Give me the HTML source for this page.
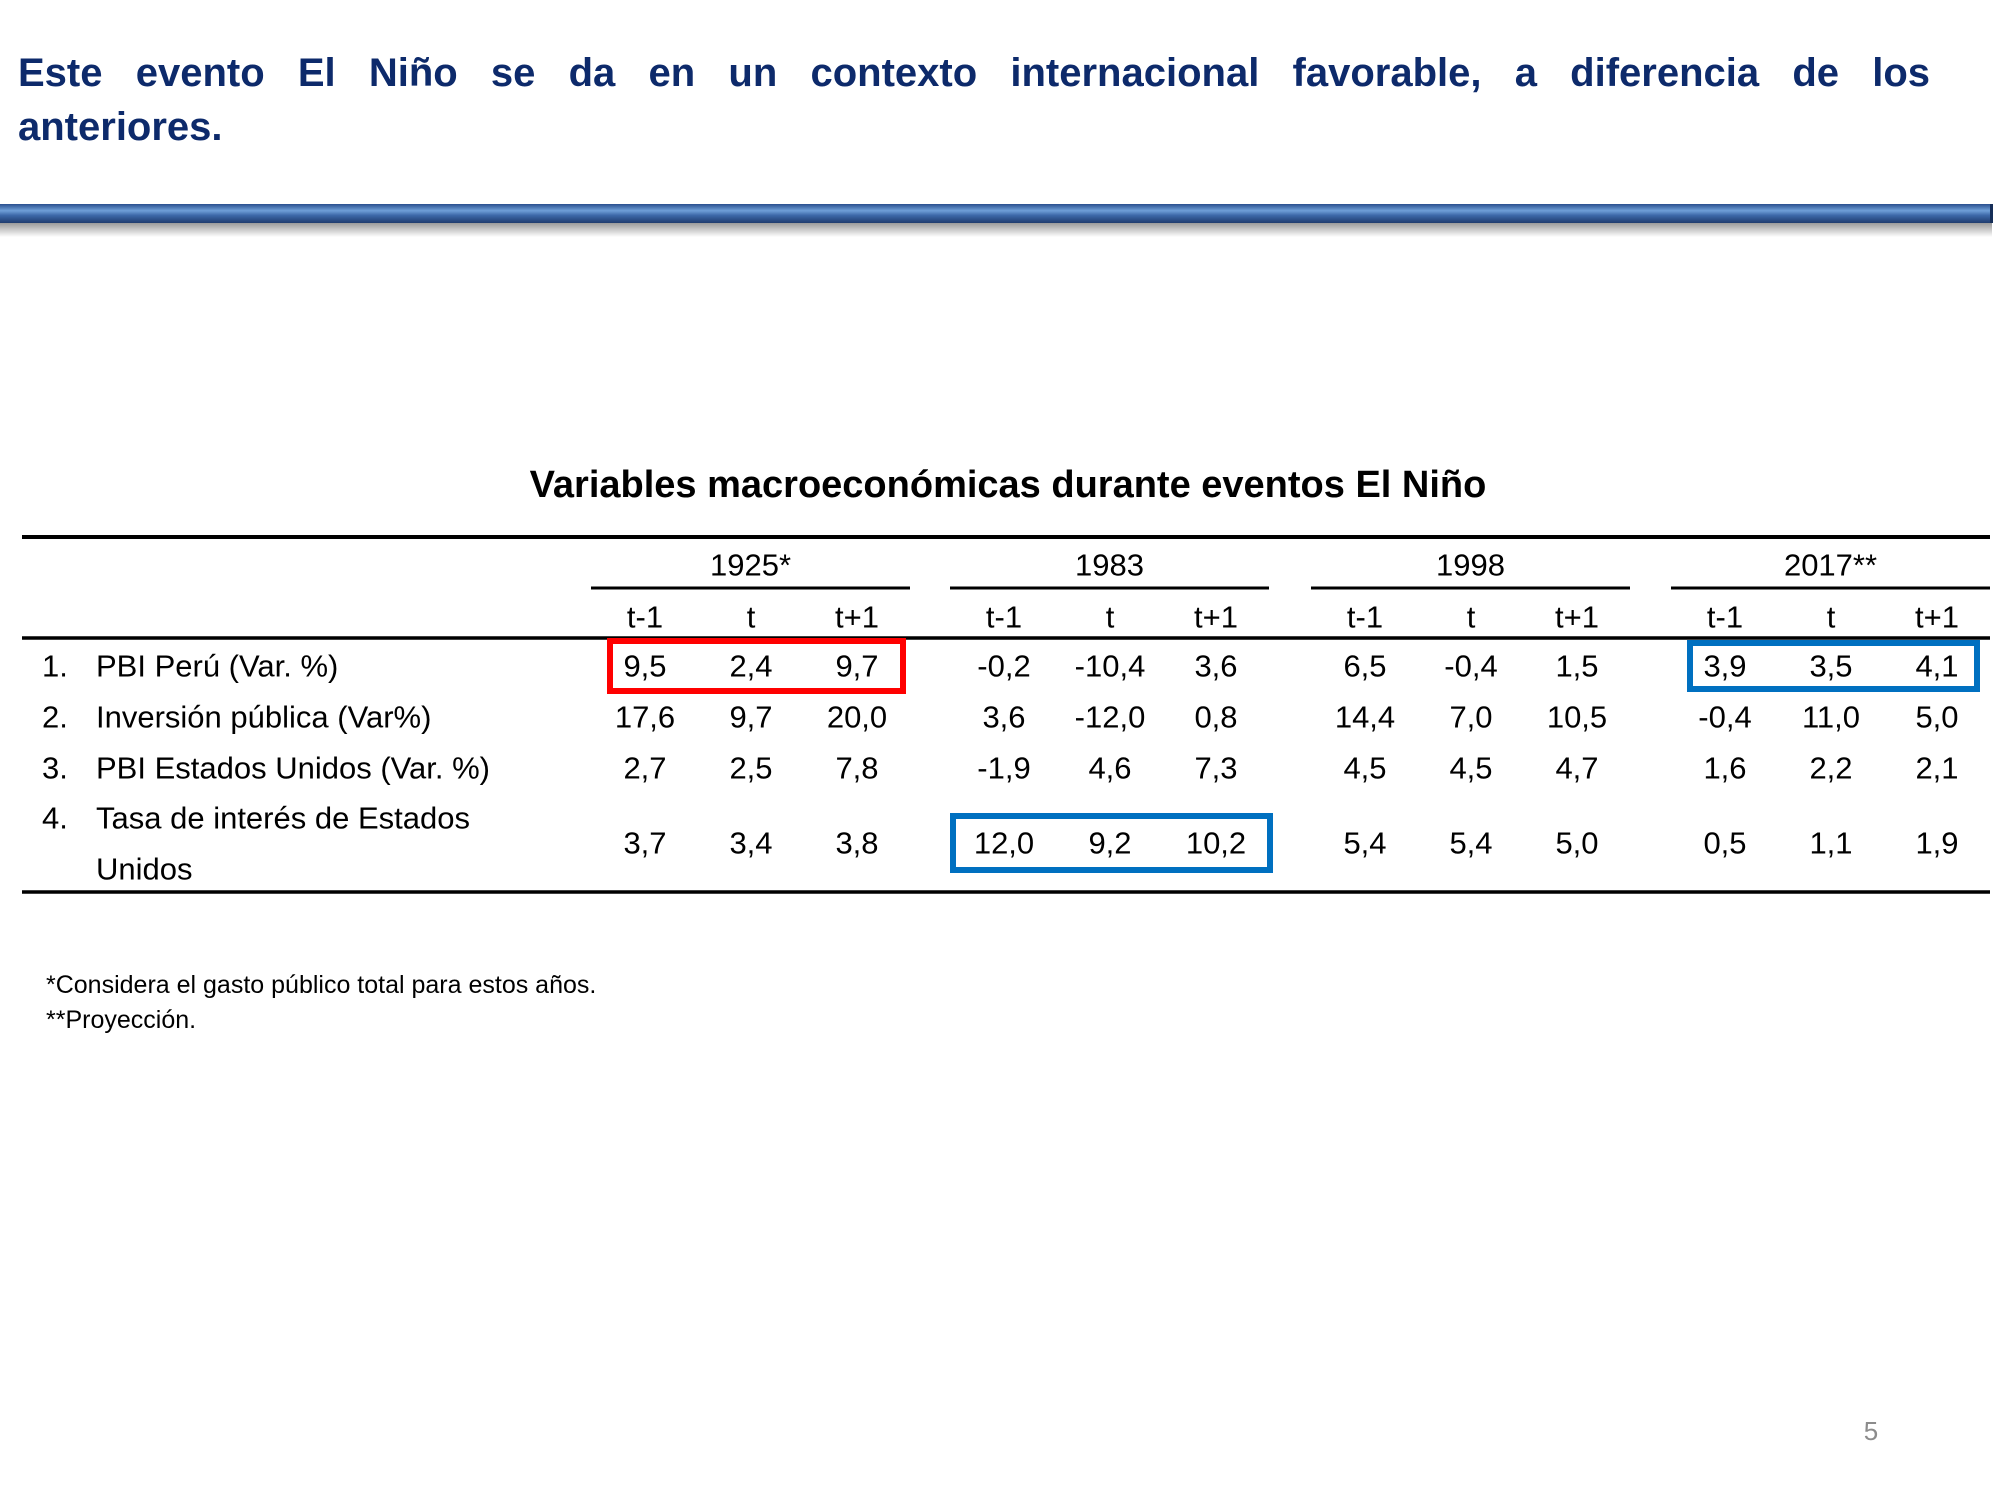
<!DOCTYPE html>
<html><head><meta charset="utf-8">
<style>
html,body{margin:0;padding:0;background:#fff;}
body{width:2000px;height:1500px;position:relative;overflow:hidden;font-family:"Liberation Sans",sans-serif;}
.hl{position:absolute;left:18px;width:1912px;font-weight:bold;font-size:40px;line-height:54px;color:#0d2a6b;white-space:nowrap;}
#hl1{top:46px;text-align:justify;text-align-last:justify;}
#hl2{top:100px;}
#bar{position:absolute;left:0;top:204px;width:1990px;height:19px;background:linear-gradient(#2a4f8f 0%,#6f9fd8 35%,#3c68a8 60%,#1f3c6e 100%);border-right:3px solid #162e58;}
#shadow{position:absolute;left:0;top:223px;width:1992px;height:14px;background:linear-gradient(#9a9a9a,#ffffff);}
svg{position:absolute;left:0;top:0;}
</style></head>
<body>
<div class="hl" id="hl1">Este evento El Niño se da en un contexto internacional favorable, a diferencia de los</div>
<div class="hl" id="hl2">anteriores.</div>
<div id="bar"></div>
<div id="shadow"></div>
<svg id="tbl" width="2000" height="1500"></svg>
<script>
const years = ["1925*","1983","1998","2017**"];
const subHeaders = ["t-1","t","t+1"];
const rowNums = ["1.","2.","3.","4."];
const rowLabels = [["PBI Perú (Var. %)"],["Inversión pública (Var%)"],["PBI Estados Unidos (Var. %)"],["Tasa de interés de Estados","Unidos"]];
const row1 = ["9,5","2,4","9,7","-0,2","-10,4","3,6","6,5","-0,4","1,5","3,9","3,5","4,1"];
const row2 = ["17,6","9,7","20,0","3,6","-12,0","0,8","14,4","7,0","10,5","-0,4","11,0","5,0"];
const row3 = ["2,7","2,5","7,8","-1,9","4,6","7,3","4,5","4,5","4,7","1,6","2,2","2,1"];
const row4 = ["3,7","3,4","3,8","12,0","9,2","10,2","5,4","5,4","5,0","0,5","1,1","1,9"];

const NS="http://www.w3.org/2000/svg";
const svg=document.getElementById('tbl');
function mk(tag,attrs){const e=document.createElementNS(NS,tag);for(const k in attrs)e.setAttribute(k,attrs[k]);svg.appendChild(e);return e;}
function txt(x,y,s,size,anchor,weight,fill){const t=mk('text',{x:x,y:y,'font-size':size,'text-anchor':anchor||'middle','font-family':'Liberation Sans, sans-serif','dominant-baseline':'central',fill:fill||'#000'});if(weight)t.setAttribute('font-weight',weight);t.textContent=s;return t;}

const title=txt(1008,485,"Variables macroeconómicas durante eventos El Niño",38,'middle','bold');



const rules=[[537,4],[638,3.5],[892,3.5]];
rules.forEach((r,i)=>{const l=mk('line',{x1:22,x2:1990,y1:r[0],y2:r[0],stroke:'#000','stroke-width':r[1]});

});

const groupX=[591,950,1311,1671], groupW=319;
const colStep=106;
function colX(g,c){return groupX[g]+54+c*colStep;}
years.forEach((y,g)=>{
  const l=mk('line',{x1:groupX[g],x2:groupX[g]+groupW,y1:588,y2:588,stroke:'#000','stroke-width':3});
  
  
  const t=txt(groupX[g]+groupW/2,565,y,31);
  
  
  subHeaders.forEach((s,c)=>{const h=txt(colX(g,c),617,s,31);
    
    });
});

const rows=[row1,row2,row3,row4];
const rowY=[666,717,768,843];
rows.forEach((vals,r)=>{
  const n=txt(42,r===3?818:rowY[r],rowNums[r],31,'start');
  
  
  rowLabels[r].forEach((s,k)=>{
    const yy=r===3?818+k*51:rowY[r];
    const t=txt(96,yy,s,31,'start');
    
    
  });
  vals.forEach((v,i)=>{
    const g=Math.floor(i/3),c=i%3;
    const t=txt(colX(g,c),rowY[r],v,31);
    
    
  });
});

// highlight boxes [group,row,color]; box offsets relative to group start
const highlights=[[0,0,'#ff0000'],[3,0,'#0070c0'],[1,3,'#0070c0']];
const boxStyle=[[19,312,50],[19,306,46],[3,320,54]];
highlights.forEach((h,i)=>{
  const g=h[0],r=h[1],s=boxStyle[i];
  const x1=groupX[g]+s[0], x2=groupX[g]+s[1];
  const b=mk('rect',{x:x1,y:rowY[r]-s[2]/2,width:x2-x1,height:s[2],fill:'none',stroke:h[2],'stroke-width':6});
  
  
});

const f1=txt(46,985,"*Considera el gasto público total para estos años.",25,'start');


const f2=txt(46,1020,"**Proyección.",25,'start');


const pn=txt(1871,1431,"5",26,'middle',null,'#8c8c8c');


</script>
</body></html>
